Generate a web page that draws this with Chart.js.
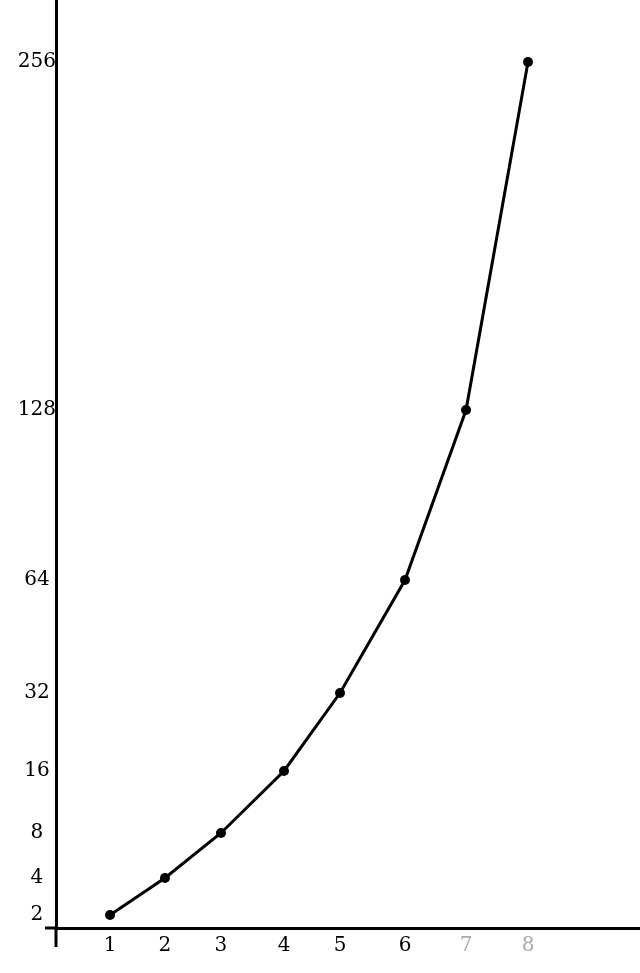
<!DOCTYPE html>
<html>
<head>
<meta charset="utf-8">
<title>Powers of two</title>
<script src="https://cdn.jsdelivr.net/npm/chart.js@4.4.0/dist/chart.umd.min.js"></script>
<style>
  html, body { margin: 0; padding: 0; background: #fff; }
  #wrap { width: 640px; height: 973px; position: relative; }
</style>
</head>
<body>
<div id="wrap"><canvas id="chart"></canvas></div>
<script>
const steps = [1, 2, 3, 4, 5, 6, 7, 8];
const values = [2, 4, 8, 16, 32, 64, 128, 256];
const xTicks = [1, 2, 3, 4, 5, 6, 7, 8];
const yTicks = [2, 4, 8, 16, 32, 64, 128, 256];
const fadedTicks = [7, 8];

// the axes in the drawing are spaced by hand, not linear:
// share of the axis length at which each tick sits
const xTickSpots = [0.0925, 0.1866, 0.2825, 0.3904, 0.4863, 0.5976, 0.7021, 0.8082];
const yTickSpots = [0.0140, 0.0539, 0.1024, 0.1692, 0.2532, 0.3750, 0.5582, 0.9332];

function spotFor(v, ticks, spots) {
  const t = [0].concat(ticks), s = [0].concat(spots);
  let i = 1;
  while (i < t.length - 1 && v > t[i]) i++;
  return s[i - 1] + (v - t[i - 1]) * (s[i] - s[i - 1]) / (t[i] - t[i - 1]);
}

function valueFor(f, ticks, spots) {
  const t = [0].concat(ticks), s = [0].concat(spots);
  let i = 1;
  while (i < s.length - 1 && f > s[i]) i++;
  return t[i - 1] + (f - s[i - 1]) * (t[i] - t[i - 1]) / (s[i] - s[i - 1]);
}

// linear scale that follows the hand drawn tick spacing
class HandScale extends Chart.LinearScale {
  calib() {
    return this.axis === 'x' ? [xTicks, xTickSpots] : [yTicks, yTickSpots];
  }
  getPixelForValue(v) {
    if (v === null || isNaN(v)) return NaN;
    const [t, s] = this.calib();
    return this.getPixelForDecimal(spotFor(v, t, s));
  }
  getValueForPixel(p) {
    const [t, s] = this.calib();
    return valueFor(this.getDecimalForPixel(p), t, s);
  }
}
HandScale.id = 'hand';
HandScale.defaults = Chart.LinearScale.defaults;
Chart.register(HandScale);

// the axes run a little past the origin
const axisStubs = {
  id: 'axisStubs',
  afterDraw(chart) {
    const { ctx, chartArea: a } = chart;
    ctx.save();
    ctx.strokeStyle = '#000';
    ctx.lineWidth = 3;
    ctx.beginPath();
    ctx.moveTo(a.left, a.bottom);
    ctx.lineTo(a.left, a.bottom + 19);
    ctx.moveTo(a.left - 11, a.bottom);
    ctx.lineTo(a.left, a.bottom);
    ctx.stroke();
    ctx.restore();
  }
};

const tickFont = { family: 'DejaVu Serif', size: 20 };

new Chart(document.getElementById('chart'), {
  type: 'line',
  data: {
    datasets: [{
      data: steps.map((s, i) => ({ x: s, y: values[i] })),
      borderColor: '#000',
      borderWidth: 3,
      tension: 0,
      pointRadius: 5,
      pointBorderWidth: 0,
      pointBackgroundColor: '#000',
      clip: false
    }]
  },
  options: {
    responsive: true,
    maintainAspectRatio: false,
    animation: false,
    layout: { padding: 0, autoPadding: false },
    plugins: { legend: { display: false }, tooltip: { enabled: false } },
    scales: {
      x: {
        type: 'hand',
        min: 0,
        max: 10,
        afterBuildTicks: s => { s.ticks = xTicks.map(v => ({ value: v })); },
        afterFit: s => { s.height = 45; s.paddingLeft = 0; s.paddingRight = 0; },
        grid: { display: false, drawTicks: false },
        border: { display: true, color: '#000', width: 3 },
        ticks: {
          font: tickFont,
          color: ctx => fadedTicks.includes(ctx.tick.value) ? '#aaa' : '#000',
          padding: 6,
          maxRotation: 0,
          autoSkip: false,
          callback: v => String(v)
        }
      },
      y: {
        type: 'hand',
        min: 0,
        max: 300,
        afterBuildTicks: s => { s.ticks = yTicks.map(v => ({ value: v })); },
        afterFit: s => { s.width = 56; s.paddingTop = 0; s.paddingBottom = 0; },
        grid: { display: false, drawTicks: false },
        border: { display: true, color: '#000', width: 3 },
        ticks: {
          font: tickFont,
          color: '#000',
          padding: 0,
          crossAlign: 'center',
          autoSkip: false,
          callback: v => String(v)
        }
      }
    }
  },
  plugins: [axisStubs]
});
</script>
</body>
</html>
